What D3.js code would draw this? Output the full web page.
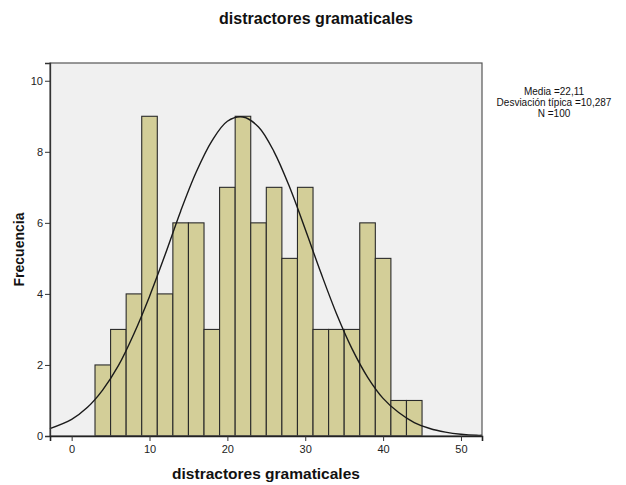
<!DOCTYPE html>
<html><head><meta charset="utf-8">
<script src="https://cdn.jsdelivr.net/npm/d3@7"></script>
<style>
html,body{margin:0;padding:0;background:#fff;}
svg{display:block;font-family:"Liberation Sans",Arial,sans-serif;}
</style></head>
<body><svg id="c" width="626" height="485"></svg>
<script>
// Histogram bins (lower edge, upper edge) and counts
const binStarts = [3,5,7,9,11,13,15,17,19,21,23,25,27,29,31,33,35,37,39,41,43];
const binWidth = 2;
const counts    = [2,3,4,9,4,6,6,3,7,9,6,7,5,7,3,3,3,6,5,1,1];
// Normal curve
const curveX = [-2.8,0,2,4,6,8,10,12,14,16,18,20,22,24,26,28,30,32,34,36,38,40,42,44,46,48,50,52,52.7];
const curveY = [0.21,0.47,0.8,1.3,1.98,2.88,3.93,5.1,6.33,7.43,8.3,8.86,8.98,8.7,8.0,7.0,5.82,4.6,3.45,2.46,1.66,1.06,0.66,0.38,0.21,0.11,0.05,0.02,0.02];
const xTicks = [0,10,20,30,40,50];
const yTicks = [0,2,4,6,8,10];
const titleText = "distractores gramaticales";
const xLabel = "distractores gramaticales";
const yLabel = "Frecuencia";
const legendLines = ["Media =22,11","Desviación típica =10,287","N =100"];

const svg = d3.select("#c");
const L = 50, R = 482, T = 63, B = 436;
const x = d3.scaleLinear().domain([-2.78, 52.7]).range([L, R]);
const y = d3.scaleLinear().domain([0, 10.5]).range([B, T]);

// Plot background
svg.append("rect").attr("x", L).attr("y", T).attr("width", R - L).attr("height", B - T)
  .attr("fill", "#f0f0f0");

// Bars
svg.append("g").selectAll("rect").data(counts).join("rect")
  .attr("x", (d, i) => x(binStarts[i]))
  .attr("width", (d, i) => x(binStarts[i] + binWidth) - x(binStarts[i]))
  .attr("y", d => y(d))
  .attr("height", d => y(0) - y(d))
  .attr("fill", "#d3ce98")
  .attr("stroke", "#2a2a2a")
  .attr("stroke-width", 1.1);

// Normal curve
const pts = curveX.map((v, i) => [v, curveY[i]]);
svg.append("path").datum(pts)
  .attr("d", d3.line().x(d => x(d[0])).y(d => y(d[1])).curve(d3.curveCatmullRom))
  .attr("fill", "none").attr("stroke", "#1a1a1a").attr("stroke-width", 1.4);

// Frame
svg.append("rect").attr("x", L).attr("y", T).attr("width", R - L).attr("height", B - T)
  .attr("fill", "none").attr("stroke", "#555").attr("stroke-width", 1.2);

// Axes
const yAxis = d3.axisLeft(y).tickValues(yTicks).tickSize(5).tickPadding(2).tickFormat(d3.format("d"));
const gy = svg.append("g").attr("transform", `translate(${L},0)`).call(yAxis);
gy.select(".domain").attr("stroke", "#333").attr("stroke-width", 1.3);
gy.selectAll(".tick line").attr("stroke", "#333");
gy.selectAll("text").attr("font-size", 11).attr("fill", "#222").attr("font-family", "Liberation Sans, Arial");

const xAxis = d3.axisBottom(x).tickValues(xTicks).tickSize(5).tickPadding(4).tickFormat(d3.format("d"));
const gx = svg.append("g").attr("transform", `translate(0,${B})`).call(xAxis);
gx.select(".domain").attr("stroke", "#222").attr("stroke-width", 1.6);
gx.selectAll(".tick line").attr("stroke", "#333");
gx.selectAll("text").attr("font-size", 11).attr("fill", "#222").attr("font-family", "Liberation Sans, Arial");

// Title
svg.append("text").attr("x", 316).attr("y", 24).attr("text-anchor", "middle")
  .attr("font-size", 16).attr("font-weight", "bold").attr("fill", "#111").text(titleText);
// X label
svg.append("text").attr("x", (L + R) / 2).attr("y", 479).attr("text-anchor", "middle")
  .attr("font-size", 15.5).attr("font-weight", "bold").attr("fill", "#111").text(xLabel);
// Y label
svg.append("text").attr("transform", `translate(24,${(T + B) / 2}) rotate(-90)`)
  .attr("text-anchor", "middle")
  .attr("font-size", 14).attr("font-weight", "bold").attr("fill", "#111").text(yLabel);

// Legend stats
svg.append("g").selectAll("text").data(legendLines).join("text")
  .attr("x", 554).attr("y", (d, i) => 95 + i * 11)
  .attr("text-anchor", "middle").attr("font-size", 10).attr("fill", "#111")
  .text(d => d);
</script></body></html>
